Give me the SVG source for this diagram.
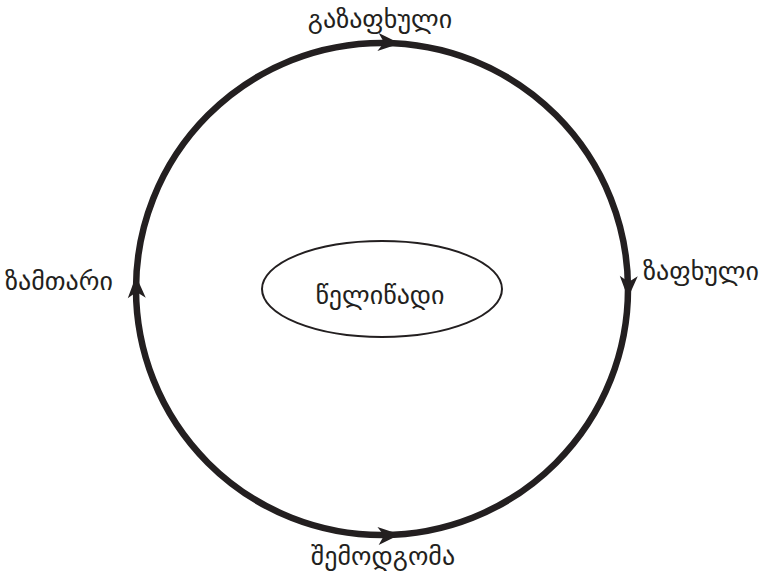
<svg xmlns="http://www.w3.org/2000/svg" width="765" height="577" viewBox="0 0 765 577">
<style>
text{font-family:"DejaVu Sans","Noto Sans",sans-serif;font-size:26px;fill:#231f20}
.lbl{text-anchor:middle}
</style>
<defs>
<path id="ah" d="M0,0 L-22,-9 L-16,0 L-22,9 Z" fill="#231f20"/>
</defs>
<rect width="765" height="577" fill="#fff"/>
<g id="connectors">
<circle cx="382" cy="289" r="246" fill="none" stroke="#231f20" stroke-width="6.5"/>
<use href="#ah" transform="translate(400,43.5) rotate(4)"/>
<use href="#ah" transform="translate(628,298) rotate(92)"/>
<use href="#ah" transform="translate(400,534.5) rotate(-4)"/>
<use href="#ah" transform="translate(136,276) rotate(-92)"/>
</g>
<g id="center"><ellipse cx="382" cy="289" rx="120" ry="48" fill="none" stroke="#231f20" stroke-width="2"/><text class="lbl" x="380" y="304">წელიწადი</text></g>
<g id="spring"><text class="lbl" x="380" y="28">გაზაფხული</text></g>
<g id="summer"><text x="643" y="280">ზაფხული</text></g>
<g id="autumn"><text class="lbl" x="383" y="565">შემოდგომა</text></g>
<g id="winter"><text x="5" y="290">ზამთარი</text></g>
</svg>
